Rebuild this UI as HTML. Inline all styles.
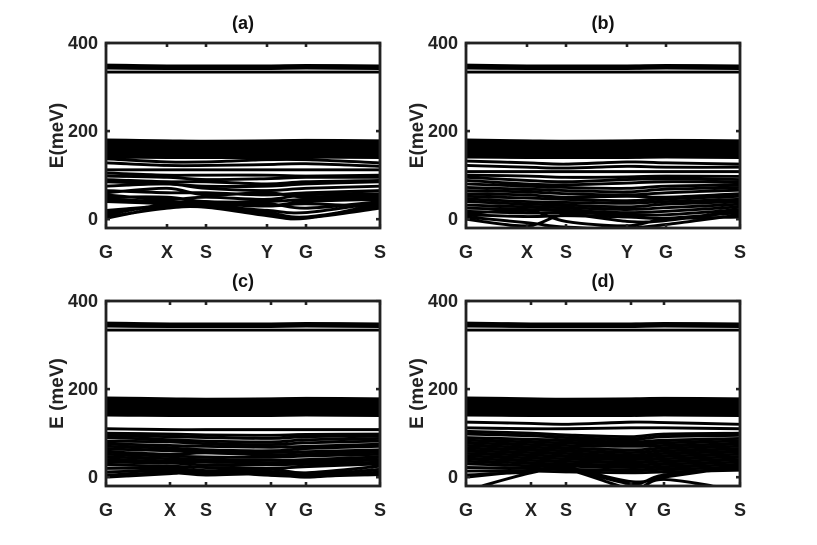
<!DOCTYPE html>
<html><head><meta charset="utf-8">
<style>
html,body{margin:0;padding:0;background:#fff;}
svg{display:block;font-family:"Liberation Sans",Arial,sans-serif;}
</style></head>
<body>
<svg id="chart" width="817" height="545" viewBox="0 0 817 545"></svg>
<script>
// ---- data ----
const kLabels = ["G","X","S","Y","G","S"];
const yTicks = [0,200,400];
const yMin = -20, yMax = 400;
const panelTitles = ["(a)","(b)","(c)","(d)"];
const yTitles = ["E(meV)","E(meV)","E (meV)","E (meV)"];
// k-point path positions (path length units) per panel
const kPathA = [0,61,100,161,200,274];
const kPathB = [0,61,100,161,200,274];
const kPathC = [0,64,100,165,200,274];
const kPathD = [0,65,100,165,198,274];
// shared high-frequency bands
const bandsHigh = [
 [350,348,348,348,349,348],[347,345,345,345,346,345],[343,342,342,342,343,342],
 [334,334,334,334,334,334]
];
// dense optical block
const bandsBlock = [
 [180,178,177,178,179,178],[177,175,175,176,177,176],[174,172,172,173,174,173],
 [171,169,169,170,171,170],[168,166,166,167,168,167],[165,163,163,164,165,164],
 [162,160,160,161,162,161],[159,157,157,158,159,158],[156,154,154,155,156,155],
 [153,151,151,152,153,152],[150,148,148,149,150,149],[147,146,146,146,147,146],
 [144,143,143,143,144,143],[141,140,140,140,141,140]
];
const bandsLowA = [
 [137,130,130,135,135,128],[128,122,122,124,126,120],[112,112,112,112,112,112],
 [105,100,100,100,98,100],[98,95,90,92,95,95],[90,85,85,80,85,88],[85,80,75,75,80,85],
 [75,80,70,65,70,75],[65,60,60,55,60,65],[60,70,55,60,50,55],[55,45,50,45,55,58],
 [50,50,40,40,45,50],[45,40,35,30,40,45],[40,35,30,35,25,40],[20,30,30,15,5,30],
 [15,30,28,10,3,25],[5,25,27,8,2,35],[2,28,30,20,15,38],[10,35,40,30,35,28]
];
const bandsLowB = [
 [132,128,125,130,128,125],[122,118,116,120,118,118],[108,108,108,108,108,108],
 [100,98,95,96,98,97],[95,88,85,90,92,90],[88,80,78,82,85,84],[80,75,72,70,75,78],
 [72,68,65,62,68,72],[65,62,58,55,60,66],[58,55,50,52,50,58],[52,48,45,42,46,52],
 [46,40,38,36,40,45],[40,34,32,28,34,40],[32,28,26,22,26,34],[25,22,20,15,18,28],
 [18,14,15,10,10,22],[10,6,8,5,2,15],[0,-15,10,-5,-3,20],[5,-8,-18,-20,-12,10],[12,20,-5,-15,0,5]
];
const bandsLowC = [
 [110,108,108,108,108,108],[100,98,96,95,97,98],[95,92,90,88,92,94],[90,85,82,80,85,88],
 [82,80,76,74,78,82],[76,72,70,68,70,75],[70,66,62,60,65,70],[64,60,58,56,58,62],
 [58,52,55,50,52,58],[52,48,46,45,48,52],[46,42,40,38,40,46],[40,36,35,32,35,40],
 [34,32,28,28,30,34],[28,25,22,20,24,30],[20,20,15,18,10,25],[12,15,10,12,5,18],
 [5,10,5,8,0,12],[0,8,12,4,2,6]
];
const bandsLowD = [
 [125,122,120,125,124,120],[112,110,110,112,112,110],[104,100,96,92,98,100],
 [98,94,90,86,92,95],[90,86,84,80,84,88],[84,80,78,75,78,82],[78,74,72,70,72,76],
 [72,68,66,62,66,70],[66,62,60,56,60,64],[60,56,54,50,54,58],[54,50,48,45,48,52],
 [48,44,42,40,42,46],[42,38,36,34,36,40],[36,32,30,28,30,34],[30,26,25,22,24,28],
 [22,20,18,16,18,22],[14,14,12,10,12,16],[5,12,20,-15,5,20],[-30,10,18,-25,-5,-30],[0,15,22,-10,0,25]
];
const panelsSpec = [
 {x0:106,x1:380,y0:43,y1:228,k:kPathA,low:bandsLowA},
 {x0:466,x1:740,y0:43,y1:228,k:kPathB,low:bandsLowB},
 {x0:106,x1:380,y0:301,y1:486,k:kPathC,low:bandsLowC},
 {x0:466,x1:740,y0:301,y1:486,k:kPathD,low:bandsLowD}
];
// ---- drawing ----
const NS="http://www.w3.org/2000/svg";
const svg=document.getElementById('chart');
function mk(tag,attrs,parent){const e=document.createElementNS(NS,tag);for(const a in attrs)e.setAttribute(a,attrs[a]);(parent||svg).appendChild(e);return e;}
function smoothPath(pts){
  let d="M"+pts[0][0]+","+pts[0][1];
  for(let i=0;i<pts.length-1;i++){
    const p0=pts[i-1]||pts[i],p1=pts[i],p2=pts[i+1],p3=pts[i+2]||pts[i+1];
    const c1=[p1[0]+(p2[0]-p0[0])/6,p1[1]+(p2[1]-p0[1])/6];
    const c2=[p2[0]-(p3[0]-p1[0])/6,p2[1]-(p3[1]-p1[1])/6];
    d+=" C"+c1[0]+","+c1[1]+" "+c2[0]+","+c2[1]+" "+p2[0]+","+p2[1];
  }
  return d;
}
panelsSpec.forEach((p,pi)=>{
  const kMax=p.k[p.k.length-1];
  const xs=k=>p.x0+(k/kMax)*(p.x1-p.x0);
  const ys=v=>p.y1-(v-yMin)/(yMax-yMin)*(p.y1-p.y0);
  const g=mk('g',{});
  
  
  const cid='clip'+pi;
  const cp=mk('clipPath',{id:cid},g);
  mk('rect',{x:p.x0,y:p.y0,width:p.x1-p.x0,height:p.y1-p.y0},cp);
  const bg=mk('g',{'clip-path':'url(#'+cid+')'},g);
  const all=bandsHigh.concat(bandsBlock,p.low);
  all.forEach((b,bi)=>{
    const pts=b.map((v,i)=>[xs(p.k[i]),ys(v)]);
    const path=mk('path',{d:smoothPath(pts),fill:'none',stroke:'#000','stroke-width':2.9},bg);
    
    
  });
  // frame
  const fr=mk('rect',{x:p.x0,y:p.y0,width:p.x1-p.x0,height:p.y1-p.y0,fill:'none',stroke:'#222','stroke-width':2.8},g);
  
  
  // x ticks & labels
  p.k.forEach((k,i)=>{
    const x=xs(k);
    mk('line',{x1:x,x2:x,y1:p.y0,y2:p.y0+4,stroke:'#222','stroke-width':2.6},g);
    mk('line',{x1:x,x2:x,y1:p.y1,y2:p.y1-4,stroke:'#222','stroke-width':2.6},g);
    const t=mk('text',{x:x,y:p.y1+30,'text-anchor':'middle','font-size':18,'font-weight':'bold',fill:'#222'},g);
    t.textContent=kLabels[i];
    
    
  });
  yTicks.forEach(v=>{
    const y=ys(v);
    mk('line',{x1:p.x0,x2:p.x0+4,y1:y,y2:y,stroke:'#222','stroke-width':2.6},g);
    mk('line',{x1:p.x1,x2:p.x1-4,y1:y,y2:y,stroke:'#222','stroke-width':2.6},g);
    const t=mk('text',{x:p.x0-8,y:y+6,'text-anchor':'end','font-size':18,'font-weight':'bold',fill:'#222'},g);
    t.textContent=v;
    
    
  });
  const tt=mk('text',{x:(p.x0+p.x1)/2,y:p.y0-14,'text-anchor':'middle','font-size':18,'font-weight':'bold',fill:'#111'},g);
  tt.textContent=panelTitles[pi];
  
  
  const cy=(p.y0+p.y1)/2;
  const yt=mk('text',{x:0,y:0,transform:'translate('+(p.x0-43)+','+cy+') rotate(-90)','text-anchor':'middle','font-size':19,'font-weight':'bold',fill:'#222'},g);
  yt.textContent=yTitles[pi];
  
  
});
</script>
</body></html>
